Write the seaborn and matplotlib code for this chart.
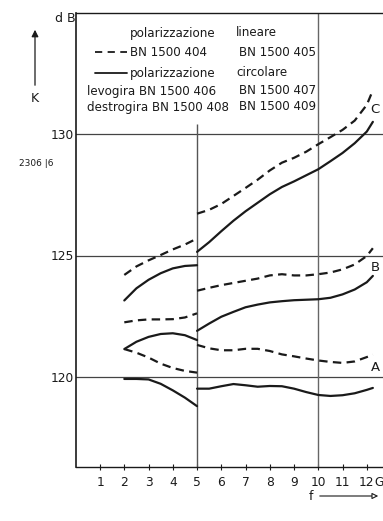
import matplotlib
matplotlib.use("Agg")
import matplotlib.pyplot as plt
from matplotlib.lines import Line2D
import seaborn as sns
import pandas as pd

# frequency grids (GHz) for the two measured bands
freq_low = [2.0, 2.5, 3.0, 3.5, 4.0, 4.5, 5.0]
freq_high = [5.0, 5.5, 6.0, 6.5, 7.0, 7.5, 8.0, 8.5, 9.0, 9.5, 10.0, 10.5,
             11.0, 11.5, 12.0, 12.25]

# gain K (dB), band 2-5 GHz
c_lin_low = [124.2, 124.55, 124.8, 125.02, 125.25, 125.45, 125.7]
c_circ_low = [123.15, 123.65, 124.0, 124.27, 124.47, 124.57, 124.6]
b_lin_low = [122.25, 122.33, 122.37, 122.37, 122.38, 122.45, 122.62]
b_circ_low = [121.15, 121.45, 121.65, 121.77, 121.8, 121.72, 121.52]
a_lin_low = [121.15, 121.0, 120.8, 120.55, 120.37, 120.25, 120.18]
a_circ_low = [119.92, 119.92, 119.9, 119.72, 119.45, 119.15, 118.8]

# gain K (dB), band 5-12 GHz
c_lin_high = [126.72, 126.88, 127.12, 127.45, 127.78, 128.12, 128.5, 128.82,
              129.02, 129.27, 129.58, 129.87, 130.17, 130.55, 131.2, 131.8]
c_circ_high = [125.15, 125.55, 126.0, 126.43, 126.82, 127.17, 127.52, 127.82,
               128.05, 128.3, 128.55, 128.88, 129.22, 129.62, 130.1, 130.5]
b_lin_high = [123.55, 123.67, 123.78, 123.87, 123.96, 124.05, 124.18, 124.23,
              124.18, 124.18, 124.23, 124.3, 124.43, 124.63, 124.98, 125.3]
b_circ_high = [121.9, 122.2, 122.48, 122.68, 122.87, 122.98, 123.07, 123.12,
               123.16, 123.18, 123.2, 123.26, 123.4, 123.6, 123.9, 124.16]
a_lin_high = [121.32, 121.18, 121.1, 121.1, 121.16, 121.16, 121.07, 120.93,
              120.85, 120.76, 120.68, 120.62, 120.58, 120.64, 120.82, 120.92]
a_circ_high = [119.52, 119.52, 119.62, 119.71, 119.66, 119.6, 119.63, 119.62,
               119.52, 119.38, 119.26, 119.22, 119.25, 119.33, 119.47, 119.55]

x_ticks = [1, 2, 3, 4, 5, 6, 7, 8, 9, 10, 11, 12]
y_ticks = [120, 125, 130]
curve_letters = ["C", "B", "A"]
curve_letter_levels = [131.0, 124.5, 120.4]

legend_rows = [
    ("polarizzazione", "lineare"),
    ("BN 1500 404", "BN 1500 405"),
    ("polarizzazione", "circolare"),
    ("levogira BN 1500 406", "BN 1500 407"),
    ("destrogira BN 1500 408", "BN 1500 409"),
]

sns.set_style("ticks")
plt.rcParams["font.family"] = ["DejaVu Sans"]

W, H = 383, 521
fig = plt.figure(figsize=(W / 100, H / 100), dpi=100)
ax = fig.add_axes([75.8 / W, 1 - 467 / H, 1 - 75.8 / W, (467 - 13) / H])

ink = "#1a1a1a"
dash = (0, (3.8, 2.4))

series = [
    (freq_low, c_lin_low, dash), (freq_low, c_circ_low, "-"),
    (freq_low, b_lin_low, dash), (freq_low, b_circ_low, "-"),
    (freq_low, a_lin_low, dash), (freq_low, a_circ_low, "-"),
    (freq_high, c_lin_high, dash), (freq_high, c_circ_high, "-"),
    (freq_high, b_lin_high, dash), (freq_high, b_circ_high, "-"),
    (freq_high, a_lin_high, dash), (freq_high, a_circ_high, "-"),
]
for xs, ys, ls in series:
    df = pd.DataFrame({"f": xs, "K": ys})
    sns.lineplot(data=df, x="f", y="K", ax=ax, color=ink, linewidth=1.6,
                 linestyle=ls, zorder=3)

ax.set_xlim(0, (W - 75.8) / 24.25)
ax.set_ylim(120 - 90 / 24.3, 120 + 364 / 24.3)

# reference grid: 120/125/130 dB across, 5 and 10 GHz verticals
for lvl in y_ticks:
    ax.axhline(lvl, color="#444444", linewidth=0.9, zorder=1)
ax.vlines(5, ax.get_ylim()[0], 130.4, color="#555555", linewidth=1.0, zorder=1)
ax.axvline(10, color="#666666", linewidth=1.0, zorder=1)

ax.set_xticks(x_ticks)
ax.set_xticklabels([str(v) for v in x_ticks], fontsize=8.8)
ax.set_yticks(y_ticks)
ax.set_yticklabels([str(v) for v in y_ticks], fontsize=8.8)
ax.tick_params(axis="x", direction="inout", length=5, width=0.8, pad=4,
               colors=ink)
ax.tick_params(axis="y", length=0, pad=1, colors=ink)
ax.set_xlabel("")
ax.set_ylabel("")

for side in ["top", "left", "bottom"]:
    ax.spines[side].set_color(ink)
    ax.spines[side].set_linewidth(1.0)
ax.spines["left"].set_linewidth(1.2)
ax.spines["right"].set_visible(False)

for letter, lvl in zip(curve_letters, curve_letter_levels):
    ax.text(12.34, lvl, letter, fontsize=9.5, ha="center", va="center",
            color=ink)


def px_text(x, y, s, **kw):
    fig.text(x / W, 1 - y / H, s, color=ink, **kw)


# legend block
row_y = [33, 52, 73, 91, 107]
for (left, right), y in zip(legend_rows, row_y):
    if left.startswith("levogira") or left.startswith("destrogira"):
        px_text(87, y, left, fontsize=8.6, ha="left", va="center")
    else:
        px_text(130, y, left, fontsize=8.6, ha="left", va="center")
    px_text(239 if right.startswith("BN") else 236, y, right, fontsize=8.6,
            ha="left", va="center")

fig.add_artist(Line2D([95 / W, 127 / W], [1 - 52 / H, 1 - 52 / H],
                      transform=fig.transFigure, color=ink, linewidth=1.3,
                      linestyle=(0, (4, 3))))
fig.add_artist(Line2D([95 / W, 127 / W], [1 - 73 / H, 1 - 73 / H],
                      transform=fig.transFigure, color=ink, linewidth=1.3))

# axis annotations
px_text(65, 18, "d B", fontsize=9, ha="center", va="center")
px_text(36, 163, "2306 |6", fontsize=6.5, ha="center", va="center")
px_text(35, 98, "K", fontsize=9, ha="center", va="center")
fig.add_artist(plt.Annotation("", xy=(35, H - 27), xytext=(35, H - 88),
                              xycoords="figure pixels",
                              textcoords="figure pixels",
                              arrowprops=dict(arrowstyle="-|>", color=ink,
                                              linewidth=0.9,
                                              mutation_scale=10)))
px_text(374, 483, "GHz", fontsize=8.8, ha="left", va="center")
px_text(311, 496, "f", fontsize=9, ha="center", va="center")
fig.add_artist(plt.Annotation("", xy=(381, H - 496), xytext=(317, H - 496),
                              xycoords="figure pixels",
                              textcoords="figure pixels",
                              arrowprops=dict(arrowstyle="-|>", fc="white",
                                              ec=ink, linewidth=0.8,
                                              mutation_scale=9)))

fig.savefig("out.png", dpi=100, facecolor="white")
